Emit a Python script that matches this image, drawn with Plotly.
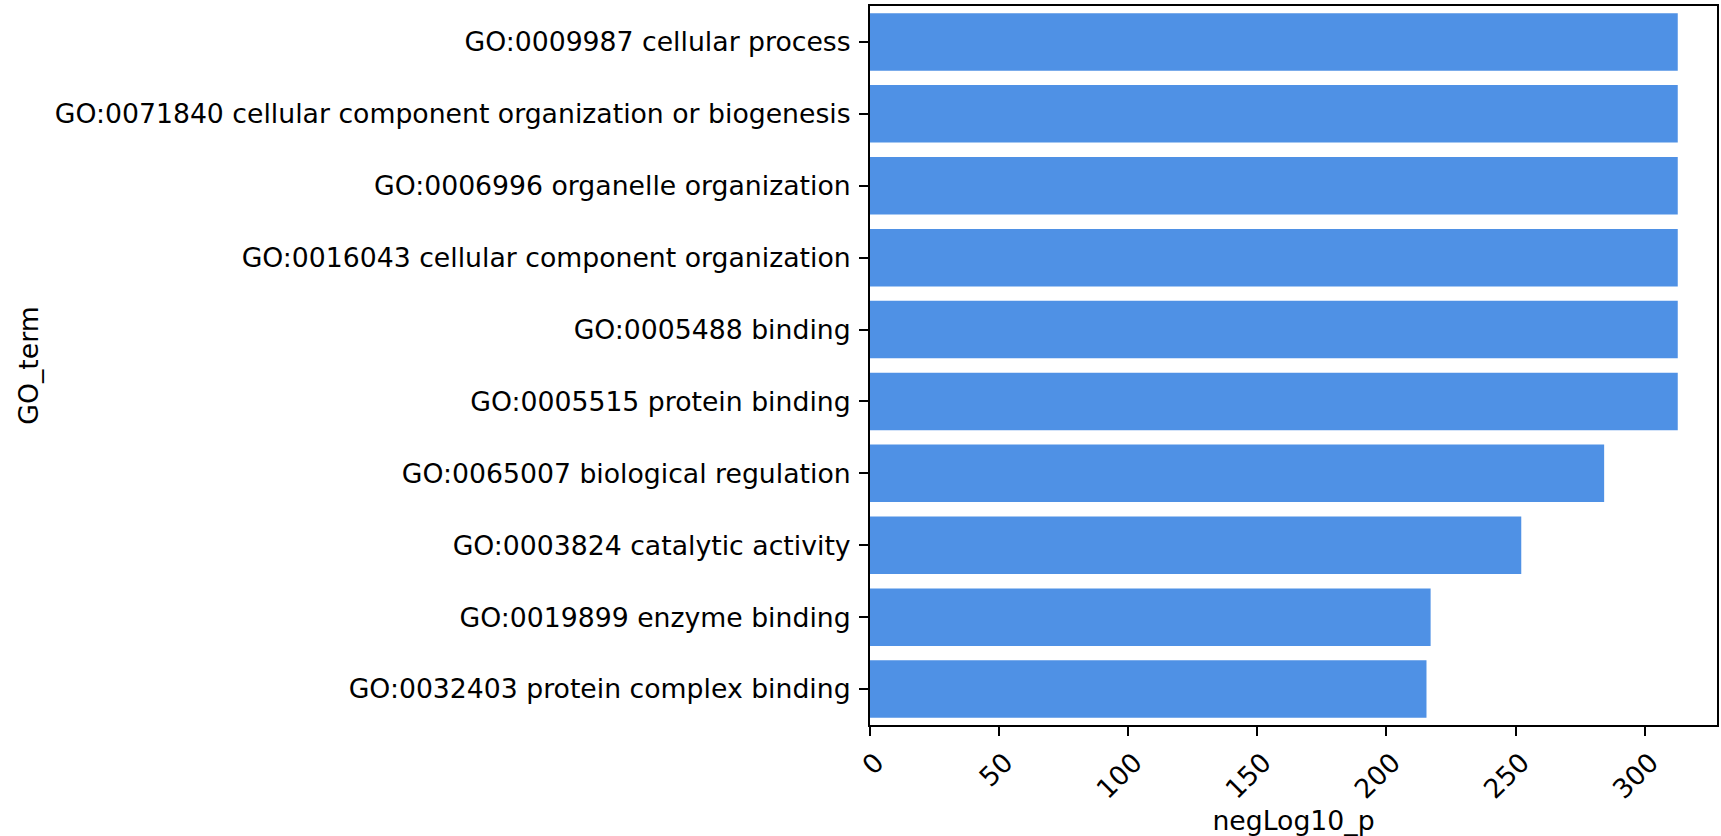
import plotly.graph_objects as go

terms = [
    "GO:0009987 cellular process",
    "GO:0071840 cellular component organization or biogenesis",
    "GO:0006996 organelle organization",
    "GO:0016043 cellular component organization",
    "GO:0005488 binding",
    "GO:0005515 protein binding",
    "GO:0065007 biological regulation",
    "GO:0003824 catalytic activity",
    "GO:0019899 enzyme binding",
    "GO:0032403 protein complex binding",
]
neg_log10_p = [312.8, 312.8, 312.8, 312.8, 312.8, 312.8, 284.3, 252.2, 217.1, 215.5]
x_ticks = [0, 50, 100, 150, 200, 250, 300]

FONT = "DejaVu Sans"
FS = 26.7
fig = go.Figure(
    go.Bar(
        x=neg_log10_p,
        y=terms,
        orientation="h",
        marker=dict(color="rgb(79,145,229)", line=dict(width=0)),
        width=0.8,
    )
)
fig.update_layout(
    width=1721,
    height=836,
    margin=dict(l=870, r=2, t=6, b=111),
    plot_bgcolor="white",
    paper_bgcolor="white",
    font=dict(family=FONT, size=FS, color="black"),
    showlegend=False,
)
fig.update_xaxes(
    range=[0, 328],
    tickvals=x_ticks,
    ticktext=[str(v) for v in x_ticks],
    tickangle=-45,
    ticklabelshift=6,
    ticks="outside",
    ticklen=9,
    tickwidth=2,
    tickcolor="black",
    showline=True,
    linecolor="black",
    linewidth=2,
    mirror=True,
    showgrid=False,
    zeroline=False,
    title=dict(text="negLog10_p", font=dict(size=FS), standoff=11),
    tickfont=dict(size=FS),
)
fig.update_yaxes(
    type="category",
    range=[9.5, -0.5],
    ticks="outside",
    ticklen=9,
    tickwidth=2,
    tickcolor="black",
    showline=True,
    linecolor="black",
    linewidth=2,
    mirror=True,
    showgrid=False,
    zeroline=False,
    ticklabelstandoff=3,
    title=dict(text="GO_term", font=dict(size=FS), standoff=8),
    tickfont=dict(size=FS),
)
fig.write_html(
    "out.html",
    config={"displayModeBar": False},
    post_script="document.body.style.margin='0';document.body.style.overflow='hidden';",
)
